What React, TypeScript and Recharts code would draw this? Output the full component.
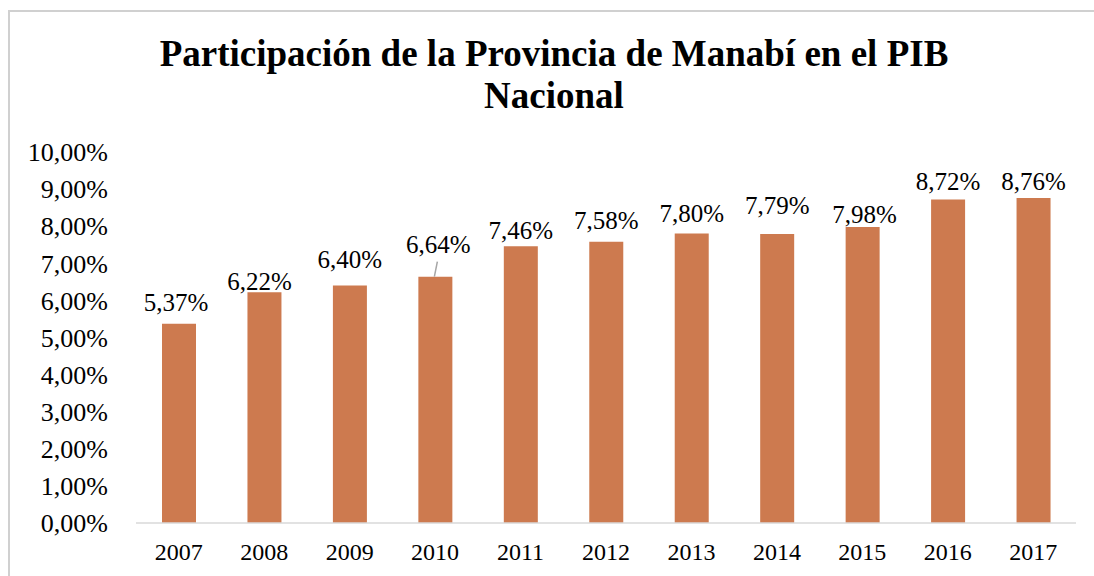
import React from "react";
import { BarChart, Bar, XAxis, YAxis, LabelList } from "recharts";

const years = ["2007", "2008", "2009", "2010", "2011", "2012", "2013", "2014", "2015", "2016", "2017"];
const shares = [5.37, 6.22, 6.4, 6.64, 7.46, 7.58, 7.8, 7.79, 7.98, 8.72, 8.76];
const yTicks = [0, 1, 2, 3, 4, 5, 6, 7, 8, 9, 10];
const titleLine1 = "Participación de la Provincia de Manabí en el PIB";
const titleLine2 = "Nacional";

const data = years.map((y, i) => ({ year: y, value: shares[i] }));

// layout-only label placement tweaks (as in the original chart)
const LABEL_LIFT = [12.3, 2, 18, 24, 7.4, 12.7, 11.6, 20, 4.3, 9.4, 8];
const LABEL_DX = [-3, -5, 0, 3, 0, 0, 0, 0, 2, 0, 0];

const FONT = "'Liberation Serif', 'Times New Roman', serif";
const fmt = (v: number) => v.toFixed(2).replace(".", ",") + "%";

const BarLabel = (props: any) => {
  const { x, y, width, value, index } = props;
  const cx = Number(x) + Number(width) / 2;
  const top = Number(y);
  const lift = LABEL_LIFT[index] ?? 10;
  const dx = LABEL_DX[index] ?? 0;
  return (
    <g>
      {index === 3 && (
        <line x1={cx + 2} y1={top - 15} x2={cx - 1} y2={top} stroke="#a6a6a6" strokeWidth={1.5} />
      )}
      <text
        x={cx + dx}
        y={top - lift}
        textAnchor="middle"
        style={{ fontFamily: FONT, fontSize: 25 }}
        fill="#000"
      >
        {fmt(Number(value))}
      </text>
    </g>
  );
};

export default function App() {
  return (
    <div
      style={{
        position: "absolute",
        left: 8,
        top: 10,
        width: 1084,
        height: 564,
        borderTop: "2px solid #d0d0d0",
        borderLeft: "2px solid #d0d0d0",
        overflow: "hidden",
        background: "#fff",
        fontFamily: FONT,
      }}
    >
      <div
        style={{
          position: "absolute",
          left: 0,
          top: 21,
          width: 1088,
          textAlign: "center",
          fontFamily: FONT,
          fontWeight: "bold",
          fontSize: 37,
          lineHeight: "42px",
          color: "#000",
        }}
      >
        {titleLine1}
        <br />
        {titleLine2}
      </div>
      <BarChart
        width={1082}
        height={562}
        data={data}
        margin={{ top: 140, right: 16, left: 26, bottom: 21 }}
        barSize={34}
        style={{ fontFamily: FONT }}
      >
        <XAxis
          dataKey="year"
          axisLine={{ stroke: "#d9d9d9", strokeWidth: 1.5 }}
          tickLine={false}
          tickSize={0}
          tickMargin={20}
          interval={0}
          tick={{ fontSize: 24, fill: "#000", style: { fontFamily: FONT } }}
        />
        <YAxis
          width={100}
          domain={[0, 10]}
          ticks={yTicks}
          interval={0}
          axisLine={false}
          tickLine={false}
          tickSize={0}
          tickMargin={28}
          tickFormatter={fmt}
          tick={{ fontSize: 26, fill: "#000", style: { fontFamily: FONT } }}
        />
        <Bar dataKey="value" fill="#CD7A4F" isAnimationActive={false}>
          <LabelList dataKey="value" content={<BarLabel />} />
        </Bar>
      </BarChart>
    </div>
  );
}
